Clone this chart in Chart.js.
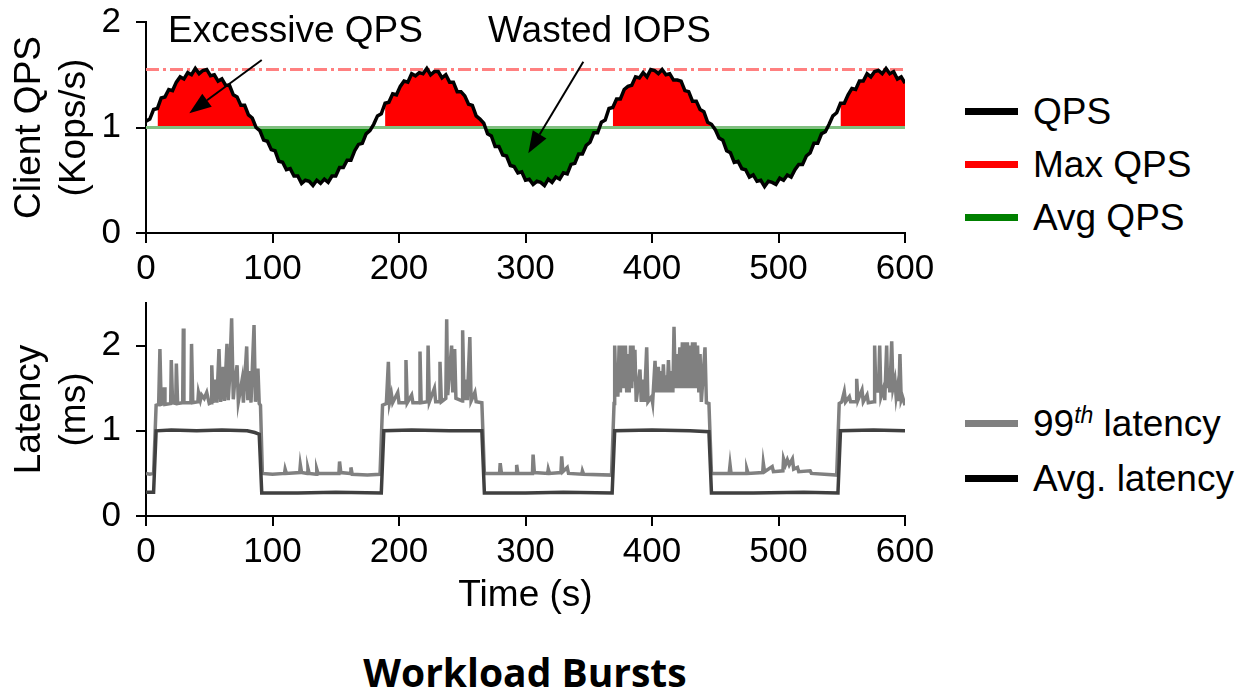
<!DOCTYPE html>
<html>
<head>
<meta charset="utf-8">
<script src="https://cdn.jsdelivr.net/npm/chart.js@4.4.1/dist/chart.umd.min.js"></script>
<style>
html, body { margin: 0; background: #fff; }
body { width: 1242px; height: 691px; position: relative; overflow: hidden; font-family: "Liberation Sans", Arial, sans-serif; color: #000; }
canvas { position: absolute; left: 0; }
#qpsChart { top: 0; }
#latChart { top: 290px; }
.legend { position: absolute; left: 965px; font-size: 37px; }
.legend .row { display: flex; align-items: center; white-space: nowrap; }
.legend .swatch { display: inline-block; width: 53px; height: 7px; margin-right: 15px; }
.legend sup { font-size: 23px; font-style: italic; }
#topLegend { top: 85px; }
#topLegend .row { height: 53px; }
#latLegend { top: 396px; }
#latLegend .row { height: 55px; }
#title { position: absolute; left: 0; width: 1050px; top: 645px; text-align: center; font: bold 39px "Open Sans", sans-serif; }
</style>
</head>
<body>
<canvas id="qpsChart" width="940" height="300"></canvas>
<canvas id="latChart" width="940" height="335"></canvas>
<div id="topLegend" class="legend"></div>
<div id="latLegend" class="legend"></div>
<div id="title">Workload Bursts</div>
<script>
// time axis
const xTicks = [0, 100, 200, 300, 400, 500, 600];
const qpsTicks = [0, 1, 2];
const latTicks = [0, 1, 2];

// client QPS (Kops/s), one reading every 3 s from t=0 to t=600
const qpsStep = 3;
const qps = [
  1.06,1.08,1.17,1.18,1.28,1.29,1.36,1.35,1.43,1.48,1.46,1.52,1.50,1.56,1.51,1.54,1.55,1.49,1.50,1.44,
  1.46,1.40,1.40,1.31,1.29,1.21,1.21,1.12,1.09,1.00,0.97,0.88,0.87,0.79,0.78,0.68,0.67,0.60,0.61,0.54,
  0.54,0.47,0.50,0.49,0.45,0.50,0.47,0.51,0.48,0.54,0.54,0.62,0.62,0.69,0.69,0.78,0.84,0.85,0.94,0.97,
  1.03,1.11,1.13,1.23,1.24,1.32,1.31,1.39,1.44,1.43,1.51,1.49,1.52,1.51,1.56,1.50,1.53,1.53,1.47,1.50,
  1.43,1.43,1.34,1.34,1.30,1.22,1.21,1.11,1.08,1.04,0.94,0.92,0.82,0.82,0.74,0.73,0.64,0.63,0.57,0.58,
  0.50,0.51,0.46,0.49,0.48,0.45,0.51,0.48,0.53,0.51,0.57,0.56,0.65,0.66,0.75,0.75,0.83,0.86,0.95,0.95,
  1.05,1.07,1.18,1.19,1.27,1.27,1.36,1.39,1.40,1.48,1.47,1.52,1.48,1.55,1.54,1.51,1.55,1.50,1.51,1.45,
  1.45,1.44,1.35,1.34,1.25,1.25,1.17,1.15,1.05,1.03,0.98,0.90,0.88,0.78,0.76,0.67,0.68,0.61,0.60,0.53,
  0.55,0.49,0.50,0.44,0.49,0.48,0.46,0.52,0.50,0.55,0.53,0.60,0.65,0.65,0.73,0.76,0.85,0.85,0.94,0.96,
  1.03,1.11,1.14,1.23,1.23,1.31,1.37,1.36,1.44,1.44,1.51,1.48,1.53,1.54,1.51,1.56,1.51,1.53,1.46,1.48,
  1.42
];
const maxQps = 1.55;
const avgQps = 1.0;
// stretches where the gap to the average is shaded
const shadeWindows = [[7, 177], [187, 357], [369, 537], [548, 600]];

// latency (ms), [time s, value]
const lat99 = [
  [0,0.50],[3,0.49],[6,0.50],[8,1.30],[10,1.31],[11,1.96],[12,1.31],[14,1.32],[14.5,1.51],[15,1.31],
  [19.5,1.32],[20,1.83],[21,1.33],[23.5,1.32],[24,1.79],[25,1.32],[29,1.33],[29.5,2.20],[30,1.33],
  [35.5,1.33],[36,2.02],[37,1.33],[41,1.34],[41.5,1.45],[43,1.36],[44,1.42],[46,1.38],[48,1.45],[50,1.32],
  [51.5,1.33],[52,1.77],[53,1.33],[55,1.60],[56,1.33],[57.7,1.96],[59,1.34],[61,1.75],[62,1.35],[64,2.02],
  [65,1.36],[66,1.60],[67.7,2.32],[69,1.37],[70,1.55],[72,1.77],[73,1.34],[76,1.60],[77,1.33],[79.6,1.99],
  [80.5,1.36],[82,1.70],[83,1.33],[85.4,2.24],[86.5,1.34],[88.5,1.73],[89.5,1.32],[90.5,1.30],[92,0.50],
  [100,0.49],[109.5,0.50],[110,0.55],[111,0.50],[121.5,0.51],[122,0.60],[123,0.51],[127.5,0.50],[128,0.56],
  [129,0.50],[134.5,0.49],[135,0.55],[136,0.50],[152.5,0.50],[153,0.64],[154,0.51],[161.5,0.50],[162,0.57],
  [163,0.49],[175,0.48],[185,0.49],[187,1.30],[190,1.32],[191.6,1.81],[192.5,1.33],[194,1.43],[195,1.33],
  [199,1.45],[200,1.33],[205,1.33],[205.5,1.83],[206.5,1.33],[210,1.42],[211,1.33],[216,1.33],[216.6,1.93],
  [217.5,1.33],[222.5,1.34],[223,2.00],[224,1.34],[228,1.50],[229,1.34],[232,1.34],[232.4,1.81],[233.5,1.34],
  [237,1.38],[237.7,2.31],[238.5,1.42],[241.6,2.00],[242.5,1.45],[244,1.96],[245,1.38],[250,1.35],[250.3,2.18],
  [251.5,1.36],[253,1.60],[254,1.36],[256,2.10],[257,1.35],[260,1.45],[261,1.34],[265.5,1.33],[267.5,0.50],
  [279.5,0.50],[280,0.62],[281,0.50],[292.5,0.50],[293,0.60],[294,0.50],[305.5,0.50],[306,0.72],[307,0.51],
  [317.5,0.50],[318,0.55],[319,0.50],[328,0.51],[328.6,0.70],[329.5,0.52],[333,0.57],[334,0.50],[344.5,0.49],
  [345,0.53],[346,0.49],[368,0.48],[370,1.32],[370.5,2.00],[371.5,1.45],[372,1.60],[373,1.40],[374,2.00],
  [375,1.45],[376,2.00],[376.8,1.50],[377.5,2.00],[378.2,1.50],[379,2.00],[380,1.45],[381,1.90],[382,1.45],
  [383,2.00],[384,1.50],[385,2.00],[385.8,1.60],[386.5,1.95],[387.5,1.34],[390.5,1.72],[391.5,1.34],[393,1.60],
  [394,1.34],[395.8,1.98],[396.8,1.34],[399.7,1.40],[400.5,1.33],[402.4,1.82],[403.4,1.45],[405,1.75],[406,1.45],
  [407,1.70],[408,1.45],[409,1.78],[410,1.45],[411,1.65],[412,1.45],[413,1.83],[414,1.45],[415,1.70],[416.5,1.45],
  [417.4,2.22],[418.5,1.50],[419.5,1.90],[420.5,1.50],[422,1.98],[423,1.50],[424,2.04],[425,1.50],[426,2.04],
  [427,1.50],[428,2.04],[429,1.50],[430,2.00],[431,1.50],[432,2.04],[433,1.50],[434,2.04],[435,1.50],[436,2.00],
  [437,1.45],[438,1.90],[439,1.34],[441.9,1.98],[443,1.33],[445,1.32],[447,0.50],[461,0.50],[461.7,0.60],
  [462.5,0.50],[474.5,0.50],[475,0.55],[476,0.50],[487.5,0.51],[488,0.62],[489,0.52],[495,0.58],[496,0.52],
  [503.5,0.53],[504,0.67],[505.5,0.60],[507,0.66],[508.5,0.60],[511,0.67],[512,0.55],[515,0.57],[516,0.52],
  [525,0.53],[526,0.50],[546,0.48],[548,1.32],[550,1.34],[552,1.46],[553,1.34],[556,1.40],[557,1.34],
  [561.3,1.34],[561.8,1.61],[562.8,1.36],[566,1.48],[567,1.34],[570,1.42],[571,1.33],[575.5,1.34],[576,2.00],
  [577,1.45],[578,1.60],[579,1.45],[580,2.00],[581,1.40],[583,1.50],[584,1.36],[585.5,2.00],[586.3,1.50],
  [587,1.70],[588,1.45],[589.5,2.05],[590.5,1.50],[592,1.60],[593,1.40],[594,1.50],[595,1.35],[596,1.90],
  [597,1.36],[598,1.40],[600,1.30]
];
const latAvg = [
  [0,0.28],[6,0.28],[8,1.00],[20,1.01],[40,1.00],[60,1.01],[80,1.00],[86,0.98],[89.5,0.96],[91.5,0.27],
  [120,0.27],[150,0.28],[186,0.27],[188,1.00],[210,1.01],[240,1.00],[265.5,1.00],[267.5,0.27],[300,0.27],
  [330,0.28],[368.5,0.27],[370.5,1.00],[400,1.01],[430,1.00],[445,0.99],[447,0.27],[480,0.27],[520,0.28],
  [547,0.27],[549,1.00],[575,1.01],[600,1.00]
];

const notes = [
  { text: 'Excessive QPS', t: 17.4, v: 1.81, fromT: 91.5, fromV: 1.64, toT: 34.2, toV: 1.135 },
  { text: 'Wasted IOPS', t: 270.4, v: 1.81, fromT: 345.7, fromV: 1.624, toT: 302.2, toV: 0.755 }
];

const FONT = '"Liberation Sans", Arial, sans-serif';
Chart.defaults.font.family = FONT;
Chart.defaults.font.size = 35;
Chart.defaults.color = '#000';

const qpsPoints = qps.map((v, i) => ({ x: i * qpsStep, y: v }));
const inShade = t => shadeWindows.some(([a, b]) => t >= a && t <= b);
const shadePoints = qpsPoints.map(p => ({ x: p.x, y: inShade(p.x) ? p.y : null }));

function axisX(height, title) {
  return {
    type: 'linear', min: 0, max: 600,
    afterBuildTicks: s => { s.ticks = xTicks.map(v => ({ value: v })); },
    afterFit: s => { s.height = height; s.paddingLeft = 0; s.paddingRight = 0; },
    grid: { drawOnChartArea: false, tickLength: 10, color: '#000', lineWidth: 2 },
    border: { color: '#000', width: 2 },
    ticks: { padding: 5, autoSkip: false, maxRotation: 0 },
    title: title ? { display: true, text: title, font: { size: 37 }, padding: { bottom: 7 } } : { display: false }
  };
}
function axisY(max, ticks, title) {
  return {
    min: 0, max: max,
    afterBuildTicks: s => { s.ticks = ticks.map(v => ({ value: v })); },
    afterFit: s => { s.width = 146; s.paddingTop = 0; s.paddingBottom = 0; },
    grid: { drawOnChartArea: false, tickLength: 10, color: '#000', lineWidth: 2 },
    border: { color: '#000', width: 2 },
    ticks: { padding: 15 },
    title: { display: true, text: title, font: { size: 37, lineHeight: 1.2 }, padding: { top: 8 } }
  };
}

const notePlugin = {
  id: 'notes',
  afterDatasetsDraw(chart) {
    const { ctx, scales: { x, y } } = chart;
    ctx.save();
    ctx.fillStyle = '#000';
    ctx.strokeStyle = '#000';
    ctx.font = '37px ' + FONT;
    ctx.textBaseline = 'alphabetic';
    notes.forEach(n => {
      ctx.fillText(n.text, x.getPixelForValue(n.t), y.getPixelForValue(n.v));
      const x0 = x.getPixelForValue(n.fromT), y0 = y.getPixelForValue(n.fromV);
      const x1 = x.getPixelForValue(n.toT), y1 = y.getPixelForValue(n.toV);
      const a = Math.atan2(y1 - y0, x1 - x0);
      const hl = 22, hw = 8;
      const bx = x1 - hl * Math.cos(a), by = y1 - hl * Math.sin(a);
      ctx.lineWidth = 2;
      ctx.beginPath(); ctx.moveTo(x0, y0); ctx.lineTo(bx, by); ctx.stroke();
      ctx.beginPath();
      ctx.moveTo(x1, y1);
      ctx.lineTo(bx - hw * Math.sin(a), by + hw * Math.cos(a));
      ctx.lineTo(bx + hw * Math.sin(a), by - hw * Math.cos(a));
      ctx.closePath(); ctx.fill();
    });
    ctx.restore();
  }
};

const common = { responsive: false, animation: false, events: [], plugins: { legend: { display: false }, tooltip: { enabled: false } } };

new Chart(document.getElementById('qpsChart'), {
  type: 'line',
  data: {
    datasets: [
      { label: 'QPS', data: qpsPoints, borderColor: '#000', borderWidth: 3.5, pointRadius: 0, tension: 0, fill: false },
      { label: 'Max QPS', data: [{ x: 0, y: maxQps }, { x: 600, y: maxQps }], borderColor: '#ff8080', borderWidth: 3, borderDash: [13, 4, 3, 4], pointRadius: 0, fill: false },
      { label: 'Avg QPS', data: [{ x: 0, y: avgQps }, { x: 600, y: avgQps }], borderColor: '#80c080', borderWidth: 3, pointRadius: 0, fill: false },
      { label: 'shade', data: shadePoints, borderColor: 'transparent', borderWidth: 0, pointRadius: 0, spanGaps: false,
        fill: { target: { value: avgQps }, above: '#ff0000', below: '#008000' } }
    ]
  },
  options: Object.assign({}, common, {
    layout: { padding: { top: 22, right: 35, left: 0, bottom: 0 } },
    scales: { x: axisX(67), y: axisY(2, qpsTicks, ['Client QPS', '(Kops/s)']) }
  }),
  plugins: [notePlugin]
});

new Chart(document.getElementById('latChart'), {
  type: 'line',
  data: {
    datasets: [
      { label: 'Avg. latency', data: latAvg, borderColor: '#404040', borderWidth: 3.5, pointRadius: 0, tension: 0 },
      { label: '99th latency', data: lat99, borderColor: '#808080', borderWidth: 3.5, pointRadius: 0, tension: 0 }
    ]
  },
  options: Object.assign({}, common, {
    layout: { padding: { top: 13, right: 35, left: 0, bottom: 0 } },
    scales: { x: axisX(109, 'Time (s)'), y: axisY(2.5, latTicks, ['Latency', '(ms)']) }
  })
});

const topLegend = [['QPS', '#000'], ['Max QPS', '#ff0000'], ['Avg QPS', '#008000']];
const latLegend = [['99<sup>th</sup> latency', '#808080'], ['Avg. latency', '#000']];
function legend(id, items) {
  document.getElementById(id).innerHTML = items.map(([label, color]) =>
    `<div class="row"><span class="swatch" style="background:${color}"></span><span>${label}</span></div>`).join('');
}
legend('topLegend', topLegend);
legend('latLegend', latLegend);
</script>
</body>
</html>
